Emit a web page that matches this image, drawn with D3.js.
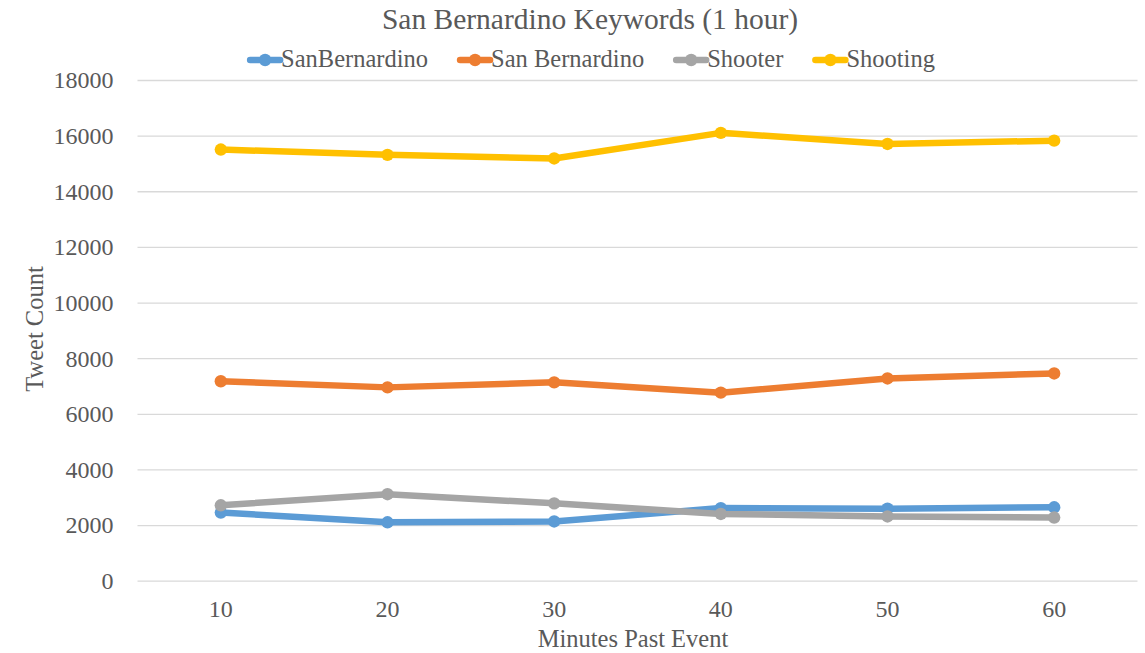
<!DOCTYPE html>
<html>
<head>
<meta charset="utf-8">
<script src="https://cdn.jsdelivr.net/npm/d3@7"></script>
<style>
  html, body { margin: 0; padding: 0; background: #ffffff; }
  svg { display: block; }
  text { font-family: "Liberation Serif", "Times New Roman", serif; fill: #595959; }
</style>
</head>
<body>
<svg id="chart" width="1145" height="653"></svg>
<script>
// ---- data ----
const categories = [10, 20, 30, 40, 50, 60];
const seriesNames = ["SanBernardino", "San Bernardino", "Shooter", "Shooting"];
const sanBernardinoNoSpace = [2450, 2100, 2130, 2610, 2590, 2640];
const sanBernardino = [7170, 6950, 7130, 6760, 7270, 7450];
const shooter = [2710, 3110, 2780, 2400, 2310, 2270];
const shooting = [15500, 15310, 15180, 16100, 15700, 15820];
const yTicks = [0, 2000, 4000, 6000, 8000, 10000, 12000, 14000, 16000, 18000];
const colors = ["#5B9BD5", "#ED7D31", "#A5A5A5", "#FFC000"];
const titleText = "San Bernardino Keywords (1 hour)";
const xTitle = "Minutes Past Event";
const yTitle = "Tweet Count";

const seriesValues = [sanBernardinoNoSpace, sanBernardino, shooter, shooting];
const series = seriesNames.map((name, i) => ({
  name, color: colors[i],
  values: categories.map((c, j) => ({ x: c, y: seriesValues[i][j] }))
}));

// ---- layout ----
const plot = { left: 137.5, right: 1137.5, top: 80, bottom: 580.7 };
const svg = d3.select("#chart");

const x = d3.scaleBand().domain(categories).range([plot.left, plot.right]);
const y = d3.scaleLinear().domain([0, 18000]).range([plot.bottom, plot.top]);

// gridlines + y tick labels
const yAxis = d3.axisLeft(y).tickValues(yTicks).tickSize(-(plot.right - plot.left)).tickPadding(24).tickFormat(d3.format("d"));
const gy = svg.append("g").attr("transform", `translate(${plot.left},0)`).call(yAxis);
gy.select(".domain").remove();
gy.selectAll(".tick line").attr("stroke", "#D9D9D9").attr("stroke-width", 1.3);
gy.selectAll(".tick text").attr("font-size", 24).attr("fill", "#595959")
  .attr("font-family", "Liberation Serif, Times New Roman, serif").attr("dy", "0.33em");

// x axis labels
const xAxis = d3.axisBottom(x).tickSize(0).tickPadding(0);
const gx = svg.append("g").attr("transform", `translate(0,${plot.bottom})`).call(xAxis);
gx.select(".domain").remove();
gx.selectAll(".tick text").attr("font-size", 24).attr("fill", "#595959")
  .attr("font-family", "Liberation Serif, Times New Roman, serif")
  .attr("dy", null).attr("y", 36);

// lines
const line = d3.line().x(d => x(d.x) + x.bandwidth() / 2).y(d => y(d.y));
const gs = svg.append("g").selectAll("g").data(series).join("g");
gs.append("path")
  .attr("d", d => line(d.values))
  .attr("fill", "none")
  .attr("stroke", d => d.color)
  .attr("stroke-width", 6.5)
  .attr("stroke-linejoin", "round")
  .attr("stroke-linecap", "round");
gs.selectAll("circle").data(d => d.values.map(v => ({ ...v, color: d.color }))).join("circle")
  .attr("cx", d => x(d.x) + x.bandwidth() / 2)
  .attr("cy", d => y(d.y))
  .attr("r", 6.2)
  .attr("fill", d => d.color);

// title
svg.append("text").attr("x", 590).attr("y", 29).attr("text-anchor", "middle")
  .attr("font-size", 29.5).text(titleText);

// axis titles
svg.append("text").attr("x", 633).attr("y", 647).attr("text-anchor", "middle")
  .attr("font-size", 24.5).text(xTitle);
svg.append("text").attr("transform", "translate(43,329) rotate(-90)").attr("text-anchor", "middle")
  .attr("font-size", 24.5).text(yTitle);

// legend
const legend = svg.append("g");
const items = legend.selectAll("g").data(series).join("g");
const symW = 32, gap = 31, fs = 24.5;
items.append("text").attr("font-size", fs).attr("y", 67).attr("x", symW).text(d => d.name);
let widths = [];
items.each(function () { widths.push(this.querySelector("text").getComputedTextLength()); });
const total = d3.sum(widths) + symW * series.length + gap * (series.length - 1);
let cx = 592 - total / 2;
items.each(function (d, i) {
  d3.select(this).attr("transform", `translate(${cx},0)`);
  cx += symW + widths[i] + gap;
});
items.append("line").attr("x1", 1).attr("x2", symW - 1).attr("y1", 60).attr("y2", 60)
  .attr("stroke", d => d.color).attr("stroke-width", 6.5).attr("stroke-linecap", "round");
items.append("circle").attr("cx", symW / 2).attr("cy", 60).attr("r", 6.2).attr("fill", d => d.color);
</script>
</body>
</html>
